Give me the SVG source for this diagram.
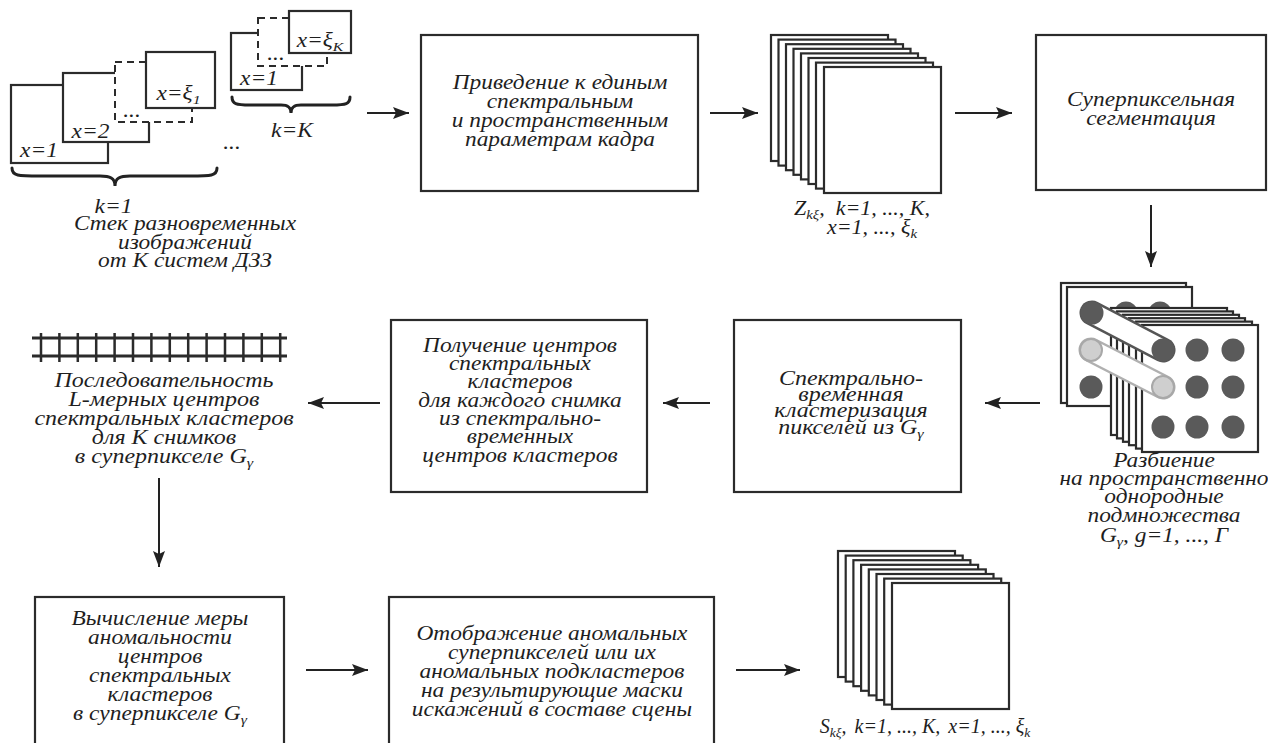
<svg xmlns="http://www.w3.org/2000/svg" width="1268" height="743" viewBox="0 0 1268 743">
<defs>
<style>
.bx{fill:#fff;stroke:#2b2b2b;stroke-width:2.2}
.fr{fill:#fff;stroke:#2b2b2b;stroke-width:2.2}
.dash{fill:#fff;stroke:#2b2b2b;stroke-width:2;stroke-dasharray:7,5}
.t{font-family:"Liberation Serif","Times New Roman",serif;font-style:italic;font-size:20px;fill:#1e1e1e;text-anchor:middle}
.sub{font-size:13.5px}
.ar{stroke:#222;stroke-width:2;fill:none;marker-end:url(#ah)}
.brace{fill:none;stroke:#222;stroke-width:3;stroke-linecap:round}
.dk{fill:#5a5a5a}
.lt{fill:#cfcfcf;stroke:#a8a8a8;stroke-width:2}
</style>
<marker id="ah" markerUnits="userSpaceOnUse" markerWidth="17" markerHeight="12" refX="16" refY="6" orient="auto"><path d="M0,0 L16,6 L0,12 L3,6 z" fill="#222"/></marker>
</defs>
<rect width="1268" height="743" fill="#fff"/>

<g id="stack-k1">
<rect class="fr" x="11" y="85" width="97" height="78"/>
<rect class="fr" x="63" y="73" width="86" height="69"/>
<rect class="dash" x="115" y="62" width="77" height="60"/>
<rect class="fr" x="146" y="52" width="69" height="56"/>
<text class="t" x="39" y="157" transform="matrix(1.17 0 0 1 -6.63 0)">x=1</text>
<text class="t" x="90.5" y="138" transform="matrix(1.17 0 0 1 -15.385 0)">x=2</text>
<text class="t" x="132" y="117" transform="matrix(1.17 0 0 1 -22.44 0)">...</text>
<text class="t" x="178.5" y="100" transform="matrix(1.17 0 0 1 -30.345 0)">x=ξ<tspan class="sub" dy="4">1</tspan></text>
<path class="brace" d="M12,168 C12,176 18,176 40,176 L100,176 C110,176 115,178 115,186 C115,178 120,176 130,176 L190,176 C211,176 217,176 217,168"/>
<text class="t" x="113.5" y="213" transform="matrix(1.17 0 0 1 -19.295 0)">k=1</text>
<text class="t" x="185" y="230" transform="matrix(1.17 0 0 1 -31.45 0)">Стек разновременных</text>
<text class="t" x="185" y="249" transform="matrix(1.17 0 0 1 -31.45 0)">изображений</text>
<text class="t" x="185" y="267" transform="matrix(1.17 0 0 1 -31.45 0)">от K систем ДЗЗ</text>
</g>
<text class="t" x="232" y="149" transform="matrix(1.17 0 0 1 -39.44 0)">...</text>
<g id="stack-kK">
<rect class="fr" x="231" y="33" width="71" height="57"/>
<rect class="dash" x="258" y="18" width="69" height="48"/>
<rect class="fr" x="289" y="11" width="62" height="42"/>
<text class="t" x="259" y="85" transform="matrix(1.17 0 0 1 -44.03 0)">x=1</text>
<text class="t" x="276" y="60" transform="matrix(1.17 0 0 1 -46.92 0)">...</text>
<text class="t" x="320" y="47" transform="matrix(1.17 0 0 1 -54.4 0)">x=ξ<tspan class="sub" dy="4">K</tspan></text>
<path class="brace" d="M232,97 C232,104 236,105 250,105 L281,105 C288,105 291,107 291,113 C291,107 294,105 301,105 L332,105 C346,105 350,104 350,97"/>
<text class="t" x="292" y="137" transform="matrix(1.17 0 0 1 -49.64 0)">k=K</text>
</g>

<g id="box-align">
<rect class="bx" x="421" y="35" width="277" height="156"/>
<g transform="matrix(1.17 0 0 1 -95.2 0)">
<text class="t" x="560" y="89">Приведение к единым</text>
<text class="t" x="560" y="108">спектральным</text>
<text class="t" x="560" y="127">и пространственным</text>
<text class="t" x="560" y="146">параметрам кадра</text>
</g>
</g>

<g id="stack-Z">
<rect class="fr" x="771" y="35" width="117" height="126"/>
<rect class="fr" x="778.5" y="39.6" width="117" height="126"/>
<rect class="fr" x="786" y="44.2" width="117" height="126"/>
<rect class="fr" x="793.5" y="48.8" width="117" height="126"/>
<rect class="fr" x="801" y="53.4" width="117" height="126"/>
<rect class="fr" x="808.5" y="58" width="117" height="126"/>
<rect class="fr" x="816" y="62.6" width="117" height="126"/>
<rect class="fr" x="824" y="67" width="117" height="126"/>
<text class="t" x="862" y="215" transform="matrix(1.1 0 0 1 -86.2 0)">Z<tspan class="sub" dy="4">kξ</tspan><tspan dy="-4">,</tspan><tspan dx="10">k=1, ..., K,</tspan></text>
<text class="t" x="872" y="234" transform="matrix(1.1 0 0 1 -87.2 0)">x=1, ..., ξ<tspan class="sub" dy="4">k</tspan></text>
</g>

<g id="box-superpixel">
<rect class="bx" x="1036" y="35" width="230" height="155"/>
<g transform="matrix(1.17 0 0 1 -195.67 0)">
<text class="t" x="1151" y="106">Суперпиксельная</text>
<text class="t" x="1151" y="125">сегментация</text>
</g>
</g>

<g id="partition">
<rect class="fr" x="1061" y="283" width="125" height="120"/>
<rect class="fr" x="1067" y="287" width="125" height="119"/>
<circle class="dk" cx="1092" cy="313" r="11.5"/>
<circle class="dk" cx="1126" cy="313" r="11.5"/>
<circle class="dk" cx="1160" cy="313" r="11.5"/>
<circle class="lt" cx="1091" cy="350" r="11"/>
<circle class="dk" cx="1091" cy="387" r="11.5"/>
<rect class="fr" x="1111" y="308" width="116" height="127"/>
<rect class="fr" x="1117" y="311.4" width="116" height="127"/>
<rect class="fr" x="1123" y="314.8" width="116" height="127"/>
<rect class="fr" x="1129" y="318.2" width="116" height="127"/>
<rect class="fr" x="1136" y="321.6" width="116" height="127"/>
<rect class="fr" x="1142" y="325" width="116" height="127"/>
<line x1="1092" y1="313" x2="1163" y2="350" stroke="#555" stroke-width="25" stroke-linecap="round"/>
<line x1="1092" y1="313" x2="1163" y2="350" stroke="#fff" stroke-width="20" stroke-linecap="round"/>
<line x1="1091" y1="350" x2="1163" y2="387" stroke="#b0b0b0" stroke-width="25" stroke-linecap="round"/>
<line x1="1091" y1="350" x2="1163" y2="387" stroke="#fff" stroke-width="20" stroke-linecap="round"/>
<circle class="dk" cx="1092" cy="313" r="11.5"/>
<circle class="lt" cx="1091" cy="350" r="11"/>
<circle class="dk" cx="1163" cy="350" r="11.5"/>
<circle class="dk" cx="1197" cy="350" r="11.5"/>
<circle class="dk" cx="1233" cy="350" r="11.5"/>
<circle class="lt" cx="1163" cy="387" r="11"/>
<circle class="dk" cx="1197" cy="387" r="11.5"/>
<circle class="dk" cx="1233" cy="387" r="11.5"/>
<circle class="dk" cx="1163" cy="427" r="11.5"/>
<circle class="dk" cx="1197" cy="427" r="11.5"/>
<circle class="dk" cx="1233" cy="427" r="11.5"/>
<g transform="matrix(1.17 0 0 1 -197.88 0)">
<text class="t" x="1164" y="467">Разбиение</text>
<text class="t" x="1164" y="485">на пространственно</text>
<text class="t" x="1164" y="503">однородные</text>
<text class="t" x="1164" y="522">подмножества</text>
<text class="t" x="1164" y="542">G<tspan class="sub" dy="4">γ</tspan><tspan dy="-4">, g=1, ..., Γ</tspan></text>
</g>
</g>

<g id="box-stclust">
<rect class="bx" x="734" y="320" width="227" height="172"/>
<g transform="matrix(1.2 0 0 1 -170.2 0)">
<text class="t" x="851" y="385">Спектрально-</text>
<text class="t" x="851" y="401">временная</text>
<text class="t" x="851" y="417">кластеризация</text>
<text class="t" x="851" y="434">пикселей из G<tspan class="sub" dy="4">γ</tspan></text>
</g>
</g>

<g id="box-centers">
<rect class="bx" x="391" y="320" width="256" height="172"/>
<g transform="matrix(1.17 0 0 1 -88.4 0)">
<text class="t" x="520" y="352">Получение центров</text>
<text class="t" x="520" y="370">спектральных</text>
<text class="t" x="520" y="388">кластеров</text>
<text class="t" x="520" y="407">для каждого снимка</text>
<text class="t" x="520" y="425">из спектрально-</text>
<text class="t" x="520" y="443">временных</text>
<text class="t" x="520" y="462">центров кластеров</text>
</g>
</g>

<g id="sequence">
<line x1="32" y1="338" x2="287" y2="338" stroke="#2b2b2b" stroke-width="3"/>
<line x1="32" y1="356" x2="287" y2="356" stroke="#2b2b2b" stroke-width="3"/>
<path d="M41,333V362M59.4,333V362M77.8,333V362M96.2,333V362M114.6,333V362M133,333V362M151.4,333V362M169.8,333V362M188.2,333V362M206.6,333V362M225,333V362M243.4,333V362M261.8,333V362M280.2,333V362" stroke="#2b2b2b" stroke-width="2.5"/>
<g transform="matrix(1.2 0 0 1 -32.8 0)">
<text class="t" x="164" y="387">Последовательность</text>
<text class="t" x="164" y="406">L-мерных центров</text>
<text class="t" x="164" y="425">спектральных кластеров</text>
<text class="t" x="164" y="444">для K снимков</text>
<text class="t" x="164" y="463">в суперпикселе G<tspan class="sub" dy="4">γ</tspan></text>
</g>
</g>

<g id="box-anomaly">
<rect class="bx" x="35" y="597" width="249" height="160"/>
<g transform="matrix(1.17 0 0 1 -27.2 0)">
<text class="t" x="160" y="625">Вычисление меры</text>
<text class="t" x="160" y="644">аномальности</text>
<text class="t" x="160" y="663">центров</text>
<text class="t" x="160" y="682">спектральных</text>
<text class="t" x="160" y="701">кластеров</text>
<text class="t" x="160" y="720">в суперпикселе G<tspan class="sub" dy="4">γ</tspan></text>
</g>
</g>

<g id="box-mapping">
<rect class="bx" x="389" y="597" width="325" height="160"/>
<g transform="matrix(1.17 0 0 1 -93.84 0)">
<text class="t" x="552" y="640">Отображение аномальных</text>
<text class="t" x="552" y="659">суперпикселей или их</text>
<text class="t" x="552" y="678">аномальных подкластеров</text>
<text class="t" x="552" y="697">на результирующие маски</text>
<text class="t" x="552" y="716">искажений в составе сцены</text>
</g>
</g>

<g id="stack-S">
<rect class="fr" x="838" y="551" width="117" height="126"/>
<rect class="fr" x="845.7" y="555.6" width="117" height="126"/>
<rect class="fr" x="853.4" y="560.2" width="117" height="126"/>
<rect class="fr" x="861.1" y="564.8" width="117" height="126"/>
<rect class="fr" x="868.8" y="569.4" width="117" height="126"/>
<rect class="fr" x="876.5" y="574" width="117" height="126"/>
<rect class="fr" x="884.2" y="578.6" width="117" height="126"/>
<rect class="fr" x="892" y="583" width="117" height="126"/>
<text class="t" x="925" y="733">S<tspan class="sub" dy="4">kξ</tspan><tspan dy="-4">,</tspan><tspan dx="8">k=1, ..., K,</tspan><tspan dx="8">x=1, ..., ξ</tspan><tspan class="sub" dy="4">k</tspan></text>
</g>

<g id="connectors">
<line class="ar" x1="367" y1="113" x2="409" y2="113"/>
<line class="ar" x1="710" y1="113" x2="758" y2="113"/>
<line class="ar" x1="955" y1="113" x2="1012" y2="113"/>
<line class="ar" x1="1151" y1="205" x2="1151" y2="267"/>
<line class="ar" x1="1040" y1="403" x2="985" y2="403"/>
<line class="ar" x1="710" y1="403" x2="663" y2="403"/>
<line class="ar" x1="380" y1="403" x2="308" y2="403"/>
<line class="ar" x1="159" y1="478" x2="159" y2="567"/>
<line class="ar" x1="306" y1="670" x2="368" y2="670"/>
<line class="ar" x1="736" y1="670" x2="800" y2="670"/>
</g>
</svg>
